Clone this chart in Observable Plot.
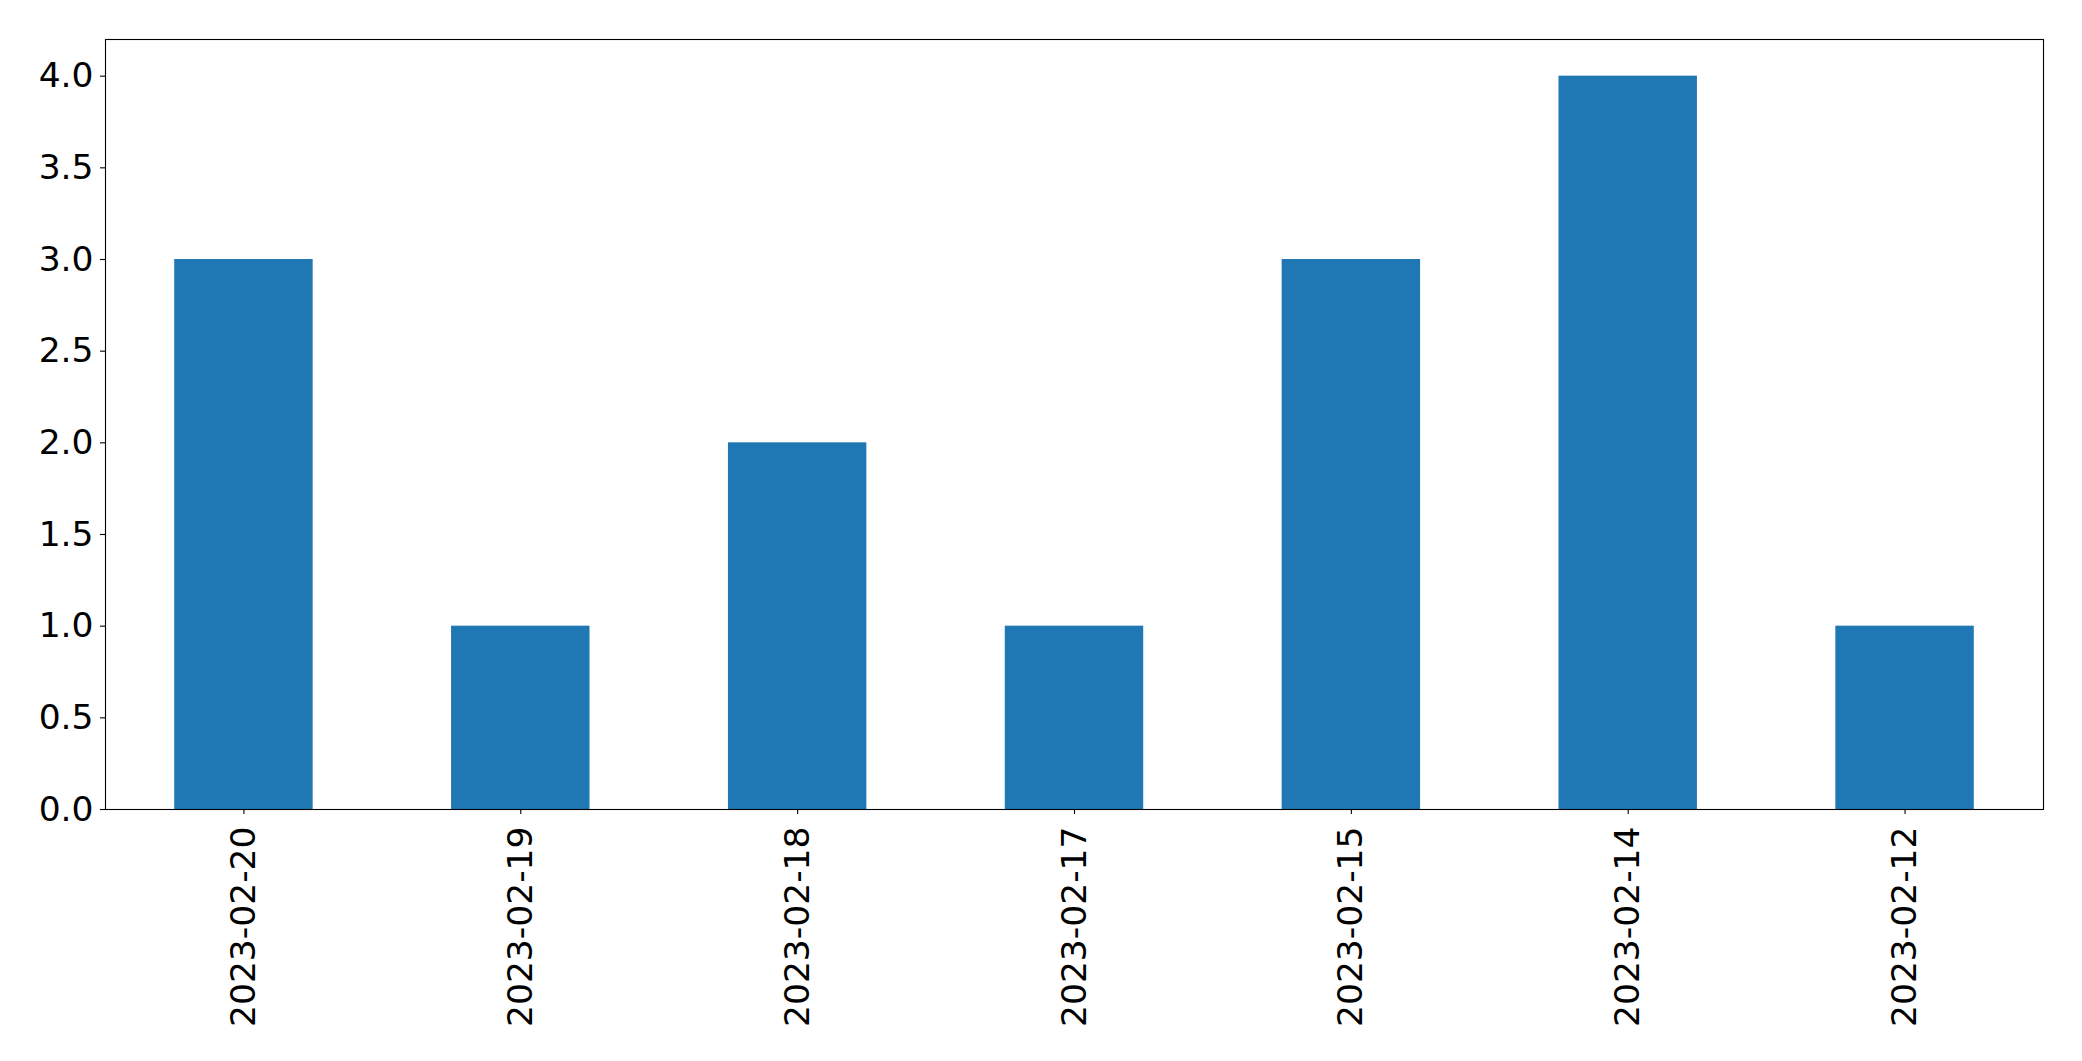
<!DOCTYPE html>
<html>
<head>
<meta charset="utf-8">
<script src="https://cdn.jsdelivr.net/npm/d3@7"></script>
<script src="https://cdn.jsdelivr.net/npm/@observablehq/plot@0.6"></script>
<style>
  html, body { margin: 0; padding: 0; background: #fff; }
  #chart svg { display: block; }
</style>
</head>
<body>
<div id="chart"></div>
<script>
const dates = ["2023-02-20", "2023-02-19", "2023-02-18", "2023-02-17", "2023-02-15", "2023-02-14", "2023-02-12"];
const counts = [3, 1, 2, 1, 3, 4, 1];
const yTicks = [0, 0.5, 1, 1.5, 2, 2.5, 3, 3.5, 4];

const data = dates.map((d, i) => ({date: d, count: counts[i]}));

const chart = Plot.plot({
  width: 2082,
  height: 1061,
  marginLeft: 105,
  marginRight: 39,
  marginTop: 39,
  marginBottom: 252,
  style: {fontFamily: "DejaVu Sans", fontSize: "34.5px", color: "#000", background: "#fff"},
  x: {domain: dates, type: "band", paddingInner: 0.5, paddingOuter: 0.25, align: 0.5, round: false},
  y: {domain: [0, 4.2]},
  marks: [
    Plot.barY(data, {x: "date", y: "count", fill: "#1f77b4"}),
    Plot.axisY({ticks: yTicks, tickFormat: d3.format(".1f"), tickSize: 5, tickPadding: 7, fontSize: 34.5, label: null, stroke: "#000", strokeWidth: 1.1}),
    Plot.axisX({tickRotate: -90, tickSize: 5, tickPadding: 12, fontSize: 34.5, label: null, stroke: "#000", strokeWidth: 1.1}),
    Plot.frame({stroke: "#000", strokeWidth: 1.1})
  ]
});
document.getElementById("chart").appendChild(chart);
</script>
</body>
</html>
